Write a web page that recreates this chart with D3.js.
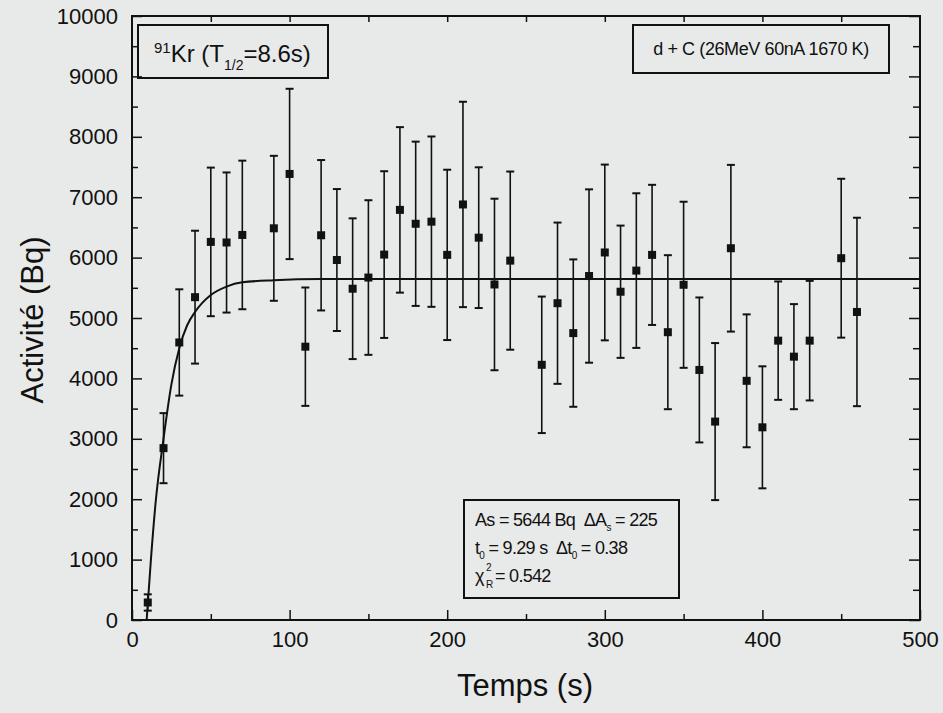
<!DOCTYPE html>
<html>
<head>
<meta charset="utf-8">
<script src="https://cdn.jsdelivr.net/npm/d3@7"></script>
<style>
  body { margin: 0; background: #e8eae9; }
  svg { display: block; font-family: "Liberation Sans", Arial, sans-serif; }
  .axis path { display: none; }
  .axis line { stroke: #111; stroke-width: 1.5; }
  .axis text { fill: #111; font-size: 22px; }
</style>
</head>
<body>
<svg width="943" height="713"></svg>
<script>
// measured points: time (s), activity (Bq), error (Bq)
var times = [10, 20, 30, 40, 50, 60, 70, 90, 100, 110, 120, 130, 140, 150, 160, 170, 180, 190, 200,
  210, 220, 230, 240, 260, 270, 280, 290, 300, 310, 320, 330, 340, 350, 360, 370, 380, 390, 400,
  410, 420, 430, 450, 460];
var activity = [290, 2845, 4595, 5345, 6260, 6250, 6375, 6485, 7385, 4525, 6370, 5960, 5485, 5670,
  6050, 6790, 6560, 6595, 6045, 6880, 6330, 5555, 5950, 4225, 5245, 4750, 5695, 6085, 5435, 5785,
  6045, 4765, 5550, 4140, 3285, 6155, 3960, 3190, 4625, 4360, 4625, 5990, 5100];
var errors = [135, 580, 880, 1100, 1230, 1160, 1230, 1200, 1410, 980, 1245, 1175, 1165, 1280,
  1380, 1370, 1360, 1410, 1410, 1700, 1165, 1420, 1475, 1130, 1335, 1220, 1435, 1455, 1095, 1280,
  1160, 1275, 1375, 1200, 1300, 1380, 1100, 1010, 980, 870, 990, 1315, 1560];

// fitted curve
var fitT = [9.3, 12, 15, 20, 25, 30, 35, 40, 50, 60, 70, 90, 120, 500];
var fitA = [0, 1000, 1950, 3000, 3900, 4500, 4880, 5100, 5380, 5520, 5590, 5625, 5644, 5644];

var xTicks = [0, 100, 200, 300, 400, 500];
var yTicks = [0, 1000, 2000, 3000, 4000, 5000, 6000, 7000, 8000, 9000, 10000];

var svg = d3.select("svg");
var margin = {left: 132, top: 16, right: 23, bottom: 93};
var w = 943 - margin.left - margin.right,
    h = 713 - margin.top - margin.bottom;

var x = d3.scaleLinear().domain([0, 500]).range([0, w]);
var y = d3.scaleLinear().domain([0, 10000]).range([h, 0]);

var g = svg.append("g").attr("transform", "translate(" + margin.left + "," + margin.top + ")");

// axes, ticks pointing inwards on all four sides
g.append("g").attr("class", "axis").attr("transform", "translate(0," + h + ")")
  .call(d3.axisBottom(x).tickValues(xTicks).tickSize(-10).tickPadding(11).tickFormat(d3.format("d")));
g.append("g").attr("class", "axis").attr("transform", "translate(0," + h + ")")
  .call(d3.axisBottom(x).tickValues(d3.range(50, 500, 100)).tickSize(-6).tickFormat(""));
g.append("g").attr("class", "axis")
  .call(d3.axisTop(x).tickValues(d3.range(50, 500, 50)).tickSize(-6).tickFormat(""));
g.append("g").attr("class", "axis")
  .call(d3.axisLeft(y).tickValues(yTicks).tickSize(-10).tickPadding(14).tickFormat(d3.format("d")));
g.append("g").attr("class", "axis")
  .call(d3.axisLeft(y).tickValues(d3.range(500, 10000, 1000)).tickSize(-6).tickFormat(""));
g.append("g").attr("class", "axis").attr("transform", "translate(" + w + ",0)")
  .call(d3.axisRight(y).tickValues(yTicks).tickSize(-11).tickFormat(""));
g.append("g").attr("class", "axis").attr("transform", "translate(" + w + ",0)")
  .call(d3.axisRight(y).tickValues(d3.range(500, 10000, 1000)).tickSize(-7).tickFormat(""));

g.append("rect").attr("width", w).attr("height", h)
  .attr("fill", "none").attr("stroke", "#111").attr("stroke-width", 2);

// fit line
var line = d3.line().x(function(d) { return x(d[0]); }).y(function(d) { return y(d[1]); })
  .curve(d3.curveMonotoneX);
g.append("path").datum(d3.zip(fitT, fitA))
  .attr("d", line).attr("fill", "none").attr("stroke", "#111").attr("stroke-width", 2);

// error bars + squares
var pts = times.map(function(t, i) { return {t: t, v: activity[i], e: errors[i]}; });
var bars = g.append("g").attr("stroke", "#111").attr("stroke-width", 1.6);
bars.selectAll("line.v").data(pts).enter().append("line")
  .attr("x1", function(d) { return x(d.t); }).attr("x2", function(d) { return x(d.t); })
  .attr("y1", function(d) { return y(d.v - d.e); }).attr("y2", function(d) { return y(d.v + d.e); });
bars.selectAll("line.top").data(pts).enter().append("line")
  .attr("x1", function(d) { return x(d.t) - 4; }).attr("x2", function(d) { return x(d.t) + 4; })
  .attr("y1", function(d) { return y(d.v + d.e); }).attr("y2", function(d) { return y(d.v + d.e); })
  .attr("stroke-width", 2);
bars.selectAll("line.bot").data(pts).enter().append("line")
  .attr("x1", function(d) { return x(d.t) - 4; }).attr("x2", function(d) { return x(d.t) + 4; })
  .attr("y1", function(d) { return y(d.v - d.e); }).attr("y2", function(d) { return y(d.v - d.e); })
  .attr("stroke-width", 2);
g.append("g").selectAll("rect").data(pts).enter().append("rect")
  .attr("x", function(d) { return x(d.t) - 4; }).attr("y", function(d) { return y(d.v) - 4; })
  .attr("width", 8).attr("height", 8).attr("fill", "#111");

// axis titles
svg.append("text").attr("x", 525).attr("y", 696).attr("text-anchor", "middle")
  .attr("font-size", 31).attr("fill", "#111").text("Temps (s)");
svg.append("text").attr("transform", "translate(43,320) rotate(-90)").attr("text-anchor", "middle")
  .attr("font-size", 31).attr("fill", "#111").text("Activité (Bq)");

// nuclide box
g.append("rect").attr("x", 6).attr("y", 9).attr("width", 190).attr("height", 53)
  .attr("fill", "none").attr("stroke", "#111").attr("stroke-width", 2);
var t1 = g.append("text").attr("x", 22).attr("y", 46).attr("font-size", 24).attr("fill", "#111");
t1.append("tspan").attr("font-size", 15).attr("dy", -9).text("91");
t1.append("tspan").attr("dy", 9).text("Kr (T");
t1.append("tspan").attr("font-size", 14).attr("dy", 8).text("1/2");
t1.append("tspan").attr("dy", -8).text("=8.6s)");

// beam box
g.append("rect").attr("x", 501).attr("y", 9).attr("width", 256).attr("height", 48)
  .attr("fill", "none").attr("stroke", "#111").attr("stroke-width", 2);
g.append("text").attr("x", 629).attr("y", 39).attr("text-anchor", "middle")
  .attr("font-size", 18).attr("letter-spacing", -0.4).attr("fill", "#111")
  .text("d + C (26MeV 60nA 1670 K)");

// fit results box
var bx = 332, by = 484, tx = bx + 11;
g.append("rect").attr("x", bx).attr("y", by).attr("width", 215).attr("height", 98)
  .attr("fill", "none").attr("stroke", "#111").attr("stroke-width", 2);
var fs = 18;
var l1 = g.append("text").attr("x", tx).attr("y", by + 26).attr("font-size", fs)
  .attr("letter-spacing", -0.7).attr("fill", "#111");
l1.append("tspan").text("As = 5644 Bq\u00A0\u00A0\u0394A");
l1.append("tspan").attr("font-size", 10).attr("dy", 5).text("s");
l1.append("tspan").attr("dy", -5).text(" = 225");
var l2 = g.append("text").attr("x", tx).attr("y", by + 54).attr("font-size", fs)
  .attr("letter-spacing", -0.7).attr("fill", "#111");
l2.append("tspan").text("t");
l2.append("tspan").attr("font-size", 10).attr("dy", 5).text("0");
l2.append("tspan").attr("dy", -5).text(" = 9.29 s\u00A0\u00A0\u0394t");
l2.append("tspan").attr("font-size", 10).attr("dy", 5).text("0");
l2.append("tspan").attr("dy", -5).text(" = 0.38");
// chi-square line: symbol, stacked super/subscript, value
g.append("text").attr("x", tx).attr("y", by + 82).attr("font-size", fs).attr("fill", "#111")
  .text("\u03C7");
g.append("text").attr("x", tx + 11).attr("y", by + 71).attr("font-size", 10).attr("fill", "#111")
  .text("2");
g.append("text").attr("x", tx + 11).attr("y", by + 88).attr("font-size", 10).attr("fill", "#111")
  .text("R");
g.append("text").attr("x", tx + 20).attr("y", by + 82).attr("font-size", fs)
  .attr("letter-spacing", -0.7).attr("fill", "#111").text("= 0.542");
</script>
</body>
</html>
